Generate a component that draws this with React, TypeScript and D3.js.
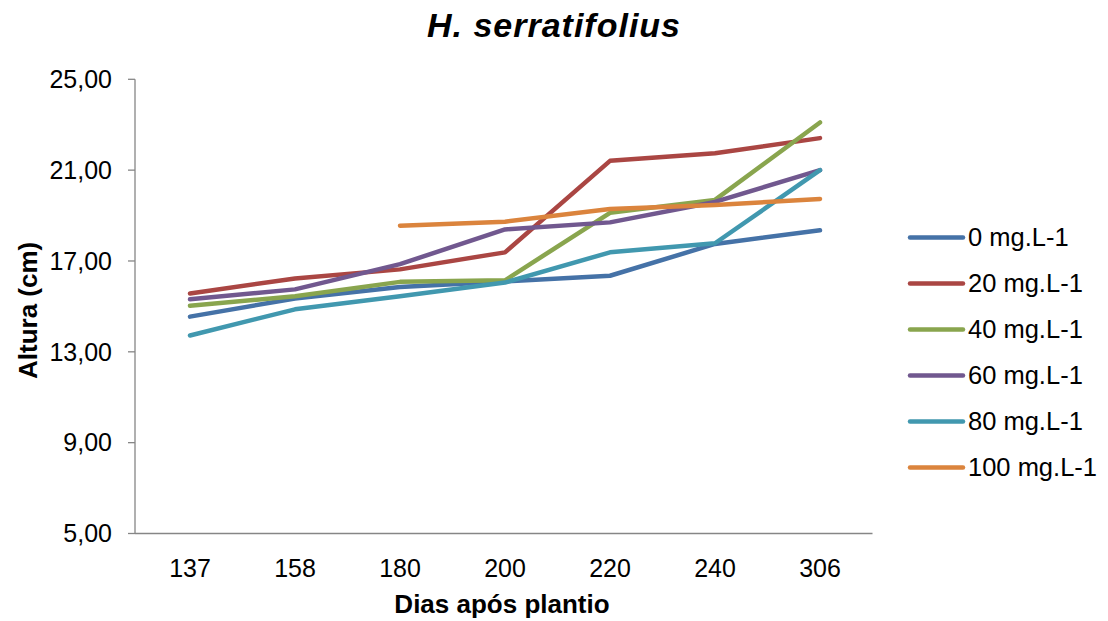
import React from "react";
import * as d3 from "d3";

const categories = ["137", "158", "180", "200", "220", "240", "306"];

const seriesNames = [
  "0 mg.L-1",
  "20 mg.L-1",
  "40 mg.L-1",
  "60 mg.L-1",
  "80 mg.L-1",
  "100 mg.L-1",
];

const s0 = [14.55, 15.35, 15.85, 16.1, 16.35, 17.75, 18.35];
const s20 = [15.57, 16.23, 16.63, 17.38, 21.41, 21.74, 22.41];
const s40 = [15.03, 15.45, 16.08, 16.15, 19.12, 19.69, 23.1];
const s60 = [15.31, 15.75, 16.86, 18.39, 18.7, 19.6, 21.0];
const s80 = [13.72, 14.87, 15.45, 16.05, 17.38, 17.78, 21.0];
const s100: (number | null)[] = [null, null, 18.55, 18.73, 19.29, 19.46, 19.73];

const seriesValues: (number | null)[][] = [s0, s20, s40, s60, s80, s100];

const colors = ["#4572A7", "#AA4643", "#89A54E", "#71588F", "#4198AF", "#DB843D"];

const yTicks = [5, 9, 13, 17, 21, 25];

const W = 1108;
const H = 621;
const left = 135;
const right = 872.5;
const top = 79.3;
const bottom = 533.5;
const font = "'Liberation Sans', Arial, sans-serif";

export default function App() {
  const x = d3.scalePoint<string>().domain(categories).range([left + 2.5, right]).padding(0.5);
  const y = d3.scaleLinear().domain([5, 25]).range([bottom, top]);
  const line = d3
    .line<number | null>()
    .defined((d) => d !== null)
    .x((_, i) => x(categories[i]) as number)
    .y((d) => y(d as number));

  const fmt = (v: number) => v.toFixed(2).replace(".", ",");

  return (
    <svg width={W} height={H} style={{ position: "absolute", left: 0, top: 0, fontFamily: font }}>
      <rect width={W} height={H} fill="#fff" />
      <text x={554} y={37} textAnchor="middle" fontSize={34} fontWeight="bold" fontStyle="italic" fill="#000" letterSpacing={1}>
        H. serratifolius
      </text>

      {/* y axis */}
      <line x1={left} x2={left} y1={top} y2={bottom} stroke="#868686" strokeWidth={1.3} />
      {yTicks.map((t) => (
        <g key={t}>
          <line x1={left - 7} x2={left} y1={y(t)} y2={y(t)} stroke="#868686" strokeWidth={1.3} />
          <text x={112} y={y(t)} dy="0.35em" textAnchor="end" fontSize={25} fill="#000">
            {fmt(t)}
          </text>
        </g>
      ))}
      {/* x axis */}
      <line x1={left} x2={right} y1={bottom} y2={bottom} stroke="#868686" strokeWidth={1.3} />
      {categories.map((c) => (
        <text key={c} x={x(c)} y={577} textAnchor="middle" fontSize={25} fill="#000">
          {c}
        </text>
      ))}

      <text
        transform={`translate(37,${(top + bottom) / 2 + 4}) rotate(-90)`}
        textAnchor="middle"
        fontSize={26}
        fontWeight="bold"
        fill="#000"
      >
        Altura (cm)
      </text>
      <text x={502} y={613} textAnchor="middle" fontSize={26} fontWeight="bold" fill="#000">
        Dias após plantio
      </text>

      {seriesValues.map((vals, i) => (
        <path
          key={i}
          d={line(vals) || ""}
          fill="none"
          stroke={colors[i]}
          strokeWidth={4.5}
          strokeLinecap="round"
          strokeLinejoin="round"
        />
      ))}

      {/* legend */}
      {seriesNames.map((n, i) => {
        const ly = 237.5 + i * 46;
        return (
          <g key={n}>
            <line x1={910} x2={963} y1={ly} y2={ly} stroke={colors[i]} strokeWidth={4.5} strokeLinecap="round" />
            <text x={968} y={ly} dy="0.35em" fontSize={25.5} fill="#000">
              {n}
            </text>
          </g>
        );
      })}
    </svg>
  );
}
